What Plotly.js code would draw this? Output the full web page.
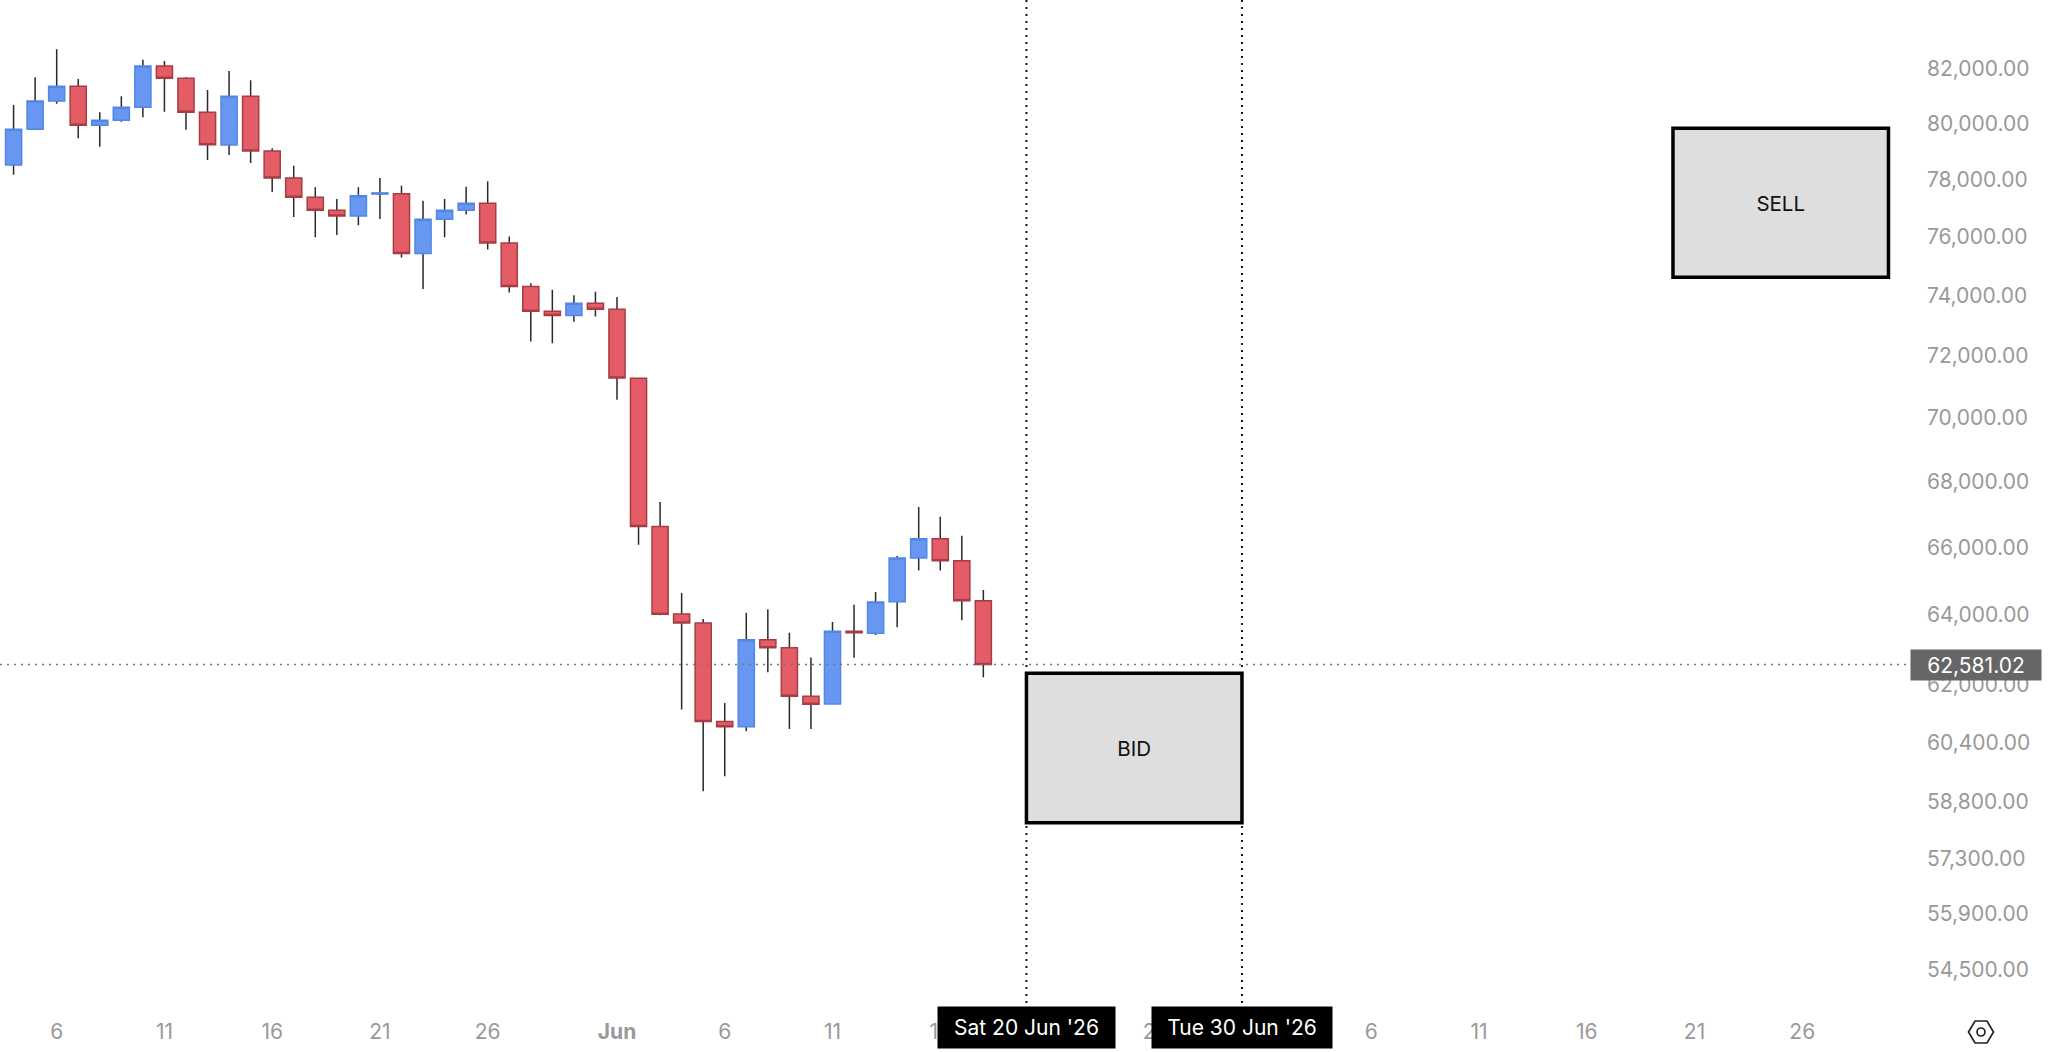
<!DOCTYPE html>
<html>
<head>
<meta charset="utf-8">
<script src="https://cdn.plot.ly/plotly-3.0.1.min.js"></script>
<style>html,body{margin:0;padding:0;background:#fff}#chart{width:2048px;height:1052px}</style>
</head>
<body>
<div id="chart"></div>
<script>
var dates = ["2026-05-04","2026-05-05","2026-05-06","2026-05-07","2026-05-08","2026-05-09","2026-05-10","2026-05-11","2026-05-12","2026-05-13","2026-05-14","2026-05-15","2026-05-16","2026-05-17","2026-05-18","2026-05-19","2026-05-20","2026-05-21","2026-05-22","2026-05-23","2026-05-24","2026-05-25","2026-05-26","2026-05-27","2026-05-28","2026-05-29","2026-05-30","2026-05-31","2026-06-01","2026-06-02","2026-06-03","2026-06-04","2026-06-05","2026-06-06","2026-06-07","2026-06-08","2026-06-09","2026-06-10","2026-06-11","2026-06-12","2026-06-13","2026-06-14","2026-06-15","2026-06-16","2026-06-17","2026-06-18"];
var opens  = [78507,79788,80818,81359,79933,80114,80588,82112,81655,80405,79220,80991,79006,78045,77365,76910,76712,77480,77490,75411,76597,76910,77155,75778,74291,73467,73320,73734,73534,71260,66629,64030,63773,60981,60835,63286,63057,61684,61470,63530,63473,64390,65681,66258,65601,64422];
var highs  = [80672,81692,82736,81629,80405,80991,82347,82298,81692,81223,81926,81581,79104,78482,77716,77306,77716,78045,77773,77245,77306,77737,77929,75995,74406,74180,74002,74113,73944,71268,67371,64647,63888,61500,64067,64170,63487,62780,63801,64299,64677,65740,67219,66923,66349,64735];
var lows   = [78162,79770,80720,79463,79161,80063,80223,80427,79774,78685,78864,78578,77551,76677,75974,76053,76389,76608,75274,74213,75974,76757,75548,74089,72461,72408,73111,73287,70570,66078,63994,61314,59083,59487,60714,62363,60779,60779,61460,62772,63427,63645,65312,65312,63848,62222];
var closes = [79788,80818,81359,79933,80114,80588,82112,81655,80405,79232,80991,79006,78045,77365,76910,76712,77421,77516,75411,76597,76910,77155,75778,74291,73467,73320,73734,73534,71268,66629,64028,63773,60981,60835,63286,63057,61684,61463,63530,63487,64384,65681,66258,65601,64422,62581.02];

var priceTicks = [82000,80000,78000,76000,74000,72000,70000,68000,66000,64000,62000,60400,58800,57300,55900,54500];
var priceLabels = ["82,000.00","80,000.00","78,000.00","76,000.00","74,000.00","72,000.00","70,000.00","68,000.00","66,000.00","64,000.00","62,000.00","60,400.00","58,800.00","57,300.00","55,900.00","54,500.00"];
var dateTicks = ["2026-05-06","2026-05-11","2026-05-16","2026-05-21","2026-05-26","2026-06-01","2026-06-06","2026-06-11","2026-06-16","2026-06-21","2026-06-26","2026-07-01","2026-07-06","2026-07-11","2026-07-16","2026-07-21","2026-07-26"];
var dateLabels = ["6","11","16","21","26","<b>Jun</b>","6","11","16","21","26","1","6","11","16","21","26"];

var lastPrice = 62581.02;
var lastPriceLabel = "62,581.02";
var bidLabel = "BID", sellLabel = "SELL";
var bidDates = ["2026-06-20","2026-06-30"], bidPrices = [62333,58247];
var sellDates = ["2026-07-20","2026-07-30"], sellPrices = [79827,74610];
var tagTexts = ["Sat 20 Jun '26","Tue 30 Jun '26"];

var FONT = "Inter, 'Liberation Sans', sans-serif";
var bodyHigh = opens.map(function(o,i){return Math.max(o,closes[i]);});
var bodyLow = opens.map(function(o,i){return Math.min(o,closes[i]);});
var bodyMid = opens.map(function(o,i){return (o+closes[i])/2;});

var wicks = {
  type:"candlestick", x:dates, open:bodyMid, high:highs, low:lows, close:bodyMid,
  whiskerwidth:0, hoverinfo:"skip", showlegend:false,
  increasing:{line:{color:"#2A2A2A",width:1.5},fillcolor:"#2A2A2A"},
  decreasing:{line:{color:"#2A2A2A",width:1.5},fillcolor:"#2A2A2A"}
};
var bodies = {
  type:"candlestick", x:dates, open:opens, high:bodyHigh, low:bodyLow, close:closes,
  whiskerwidth:0, hoverinfo:"skip", showlegend:false,
  increasing:{line:{color:"#5387E6",width:1.5},fillcolor:"#6797F0"},
  decreasing:{line:{color:"#A63D45",width:1.5},fillcolor:"#E45C66"}
};

function boxShape(d,p){
  return {type:"rect",layer:"above",xref:"x",yref:"y",x0:d[0],x1:d[1],y0:p[1],y1:p[0],
    fillcolor:"#DEDEDE",line:{color:"#000000",width:3.5}};
}
var bidBox = boxShape(bidDates,bidPrices);
bidBox.label = {text:bidLabel,textposition:"middle center",font:{family:FONT,size:20.5,color:"#111111"}};
var sellBox = boxShape(sellDates,sellPrices);
sellBox.label = {text:sellLabel,textposition:"middle center",font:{family:FONT,size:20.5,color:"#111111"}};

var shapes = [
  {type:"line",layer:"above",xref:"x",yref:"paper",x0:bidDates[0],x1:bidDates[0],y0:0,y1:1,line:{color:"#111111",width:2,dash:"2px,5px"}},
  {type:"line",layer:"above",xref:"x",yref:"paper",x0:bidDates[1],x1:bidDates[1],y0:0,y1:1,line:{color:"#111111",width:2,dash:"2px,5px"}},
  {type:"line",layer:"above",xref:"paper",yref:"y",x0:0,x1:1,y0:lastPrice,y1:lastPrice,line:{color:"#777777",width:1.4,dash:"2px,5px"}},
  bidBox, sellBox,
  {type:"path",layer:"above",xref:"paper",yref:"paper",xsizemode:"pixel",ysizemode:"pixel",xanchor:1,yanchor:0,
   path:"M56.5,-29 L63,-18 L75,-18 L81.5,-29 L75,-40 L63,-40 Z",line:{color:"#222222",width:1.7}},
  {type:"circle",layer:"above",xref:"paper",yref:"paper",xsizemode:"pixel",ysizemode:"pixel",xanchor:1,yanchor:0,
   x0:65,x1:73,y0:-33,y1:-25,line:{color:"#222222",width:1.7}}
];

var annotations = [
  {xref:"x",yref:"paper",x:bidDates[0],y:-0.003,yanchor:"top",xanchor:"center",text:tagTexts[0],showarrow:false,width:177,height:41,bgcolor:"#000000",borderpad:0,font:{family:FONT,size:21,color:"#FFFFFF"}},
  {xref:"x",yref:"paper",x:bidDates[1],y:-0.003,yanchor:"top",xanchor:"center",text:tagTexts[1],showarrow:false,width:180,height:41,bgcolor:"#000000",borderpad:0,font:{family:FONT,size:21,color:"#FFFFFF"}},
  {xref:"paper",yref:"y",x:1,xshift:-2.5,xanchor:"left",y:Math.log10(lastPrice),yanchor:"middle",text:lastPriceLabel,showarrow:false,width:130,height:30,bgcolor:"#666666",borderpad:0,font:{family:FONT,size:21,color:"#FFFFFF"}}
];

var layout = {
  width:2048,height:1052,
  margin:{l:0,r:136,t:0,b:49,pad:0},
  paper_bgcolor:"#FFFFFF",plot_bgcolor:"#FFFFFF",
  font:{family:FONT,size:21,color:"#999999"},
  showlegend:false,hovermode:false,
  boxmode:"overlay",boxgap:0.15,boxgroupgap:0.12,
  xaxis:{type:"date",range:["2026-05-03 08:53","2026-07-31 02:12"],rangeslider:{visible:false},
    tickmode:"array",tickvals:dateTicks,ticktext:dateLabels,showgrid:false,zeroline:false,showline:false,ticks:"",
    ticklabelstandoff:14,tickangle:0,tickfont:{family:FONT,size:21,color:"#999999"},automargin:false},
  yaxis:{type:"log",side:"right",range:[Math.log10(53669),Math.log10(84610)],
    tickmode:"array",tickvals:priceTicks,ticktext:priceLabels,showgrid:false,zeroline:false,showline:false,ticks:"",
    ticklabelstandoff:14,tickfont:{family:FONT,size:21,color:"#999999"},automargin:false},
  shapes:shapes,annotations:annotations
};
Plotly.newPlot("chart",[wicks,bodies],layout,{displayModeBar:false,staticPlot:true});
</script>
</body>
</html>
